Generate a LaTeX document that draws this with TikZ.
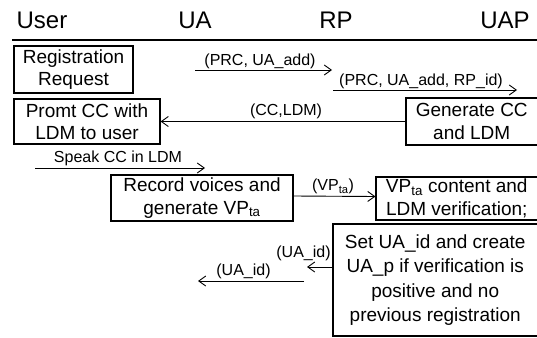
\documentclass[tikz,border=0pt]{standalone}
\usepackage{fontspec}
\setmainfont{Liberation Sans}
\usetikzlibrary{arrows.meta}
\begin{document}
\begin{tikzpicture}[x=1pt,y=-1pt,
  hdr/.style={font=\fontsize{24}{28}\selectfont, inner sep=0pt},
  box/.style={draw, line width=1.1pt, align=center, inner sep=0pt, font=\fontsize{19}{22.5}\selectfont},
  lbl/.style={font=\fontsize{16}{18}\selectfont, inner sep=0pt},
  msg/.style={line width=0.9pt, -{Straight Barb[length=7pt,width=10pt]}}]
\useasboundingbox (0,0) rectangle (537,337);
% headers
\node[hdr] (user) at (42,20) {User};
\node[hdr] (ua) at (195,20) {UA};
\node[hdr] (rp) at (336,20) {RP};
\node[hdr] (uap) at (505,20) {UAP};
\coordinate (hl1) at (12,40);
\coordinate (hl2) at (537,40);
\draw[line width=1.4pt] (hl1) -- (hl2);
% boxes
\node[box, minimum width=119pt, minimum height=47pt] (reg) at (73.5,69.5) {Registration\\Request};
\node[box, minimum width=146pt, minimum height=45pt] (promt) at (87,121.5) {Promt CC with\\LDM to user};
\node[box, minimum width=131.5pt, minimum height=47pt] (gen) at (471.75,121.5) {Generate CC\\and LDM};
\node[box, minimum width=182pt, minimum height=46pt] (rec) at (202,198) {Record voices and\\generate VP\textsubscript{ta}};
\node[box, minimum width=161.5pt, minimum height=43pt] (ver) at (456.75,198.5) {VP\textsubscript{ta} content and\\LDM verification;};
\node[box, minimum width=204.5pt, minimum height=112pt, font=\fontsize{19}{24.3}\selectfont] (set) at (435.25,280) {Set UA\_id and create\\UA\_p if verification is\\positive and no\\previous registration};
% message 1
\coordinate (a1s) at (195,70);
\coordinate (a1e) at (332,70);
\draw[msg] (a1s) -- (a1e);
\node[lbl] (l1) at (260,61) {(PRC, UA\_add)};
% message 2
\coordinate (a2s) at (333,90);
\coordinate (a2e) at (517,90);
\draw[msg] (a2s) -- (a2e);
\node[lbl] (l2) at (421,81.5) {(PRC, UA\_add, RP\_id)};
% message 3
\draw[msg] (gen.west) -- (promt.east);
\node[lbl] (l3) at (286,111.5) {(CC,LDM)};
% message 4
\coordinate (a4s) at (35,168);
\coordinate (a4e) at (205,168);
\draw[msg] (a4s) -- (a4e);
\node[lbl] (l4) at (118,158.5) {Speak CC in LDM};
% message 5
\draw[msg] ([yshift=2pt]rec.east) -- ([yshift=2pt]ver.west);
\node[lbl] (l5) at (333,186.5) {(VP\textsubscript{ta})};
% message 6
\coordinate (a6e) at (307,267);
\draw[msg] ([yshift=13pt]set.west) -- (a6e);
\node[lbl] (l6) at (303.5,253) {(UA\_id)};
% message 7
\coordinate (a7s) at (304,281);
\coordinate (a7e) at (198,281);
\draw[msg] (a7s) -- (a7e);
\node[lbl] (l7) at (243.5,271) {(UA\_id)};
\end{tikzpicture}
\end{document}
